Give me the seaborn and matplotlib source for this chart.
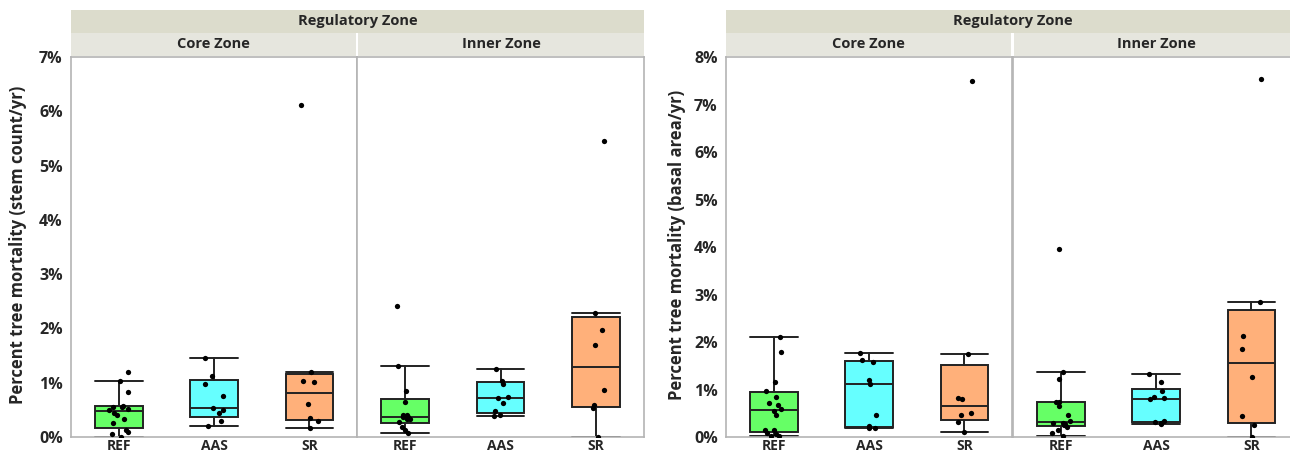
import numpy as np
import pandas as pd
import matplotlib.pyplot as plt
import seaborn as sns
from matplotlib.ticker import PercentFormatter

# Estilo geral
sns.set_theme(style="white")
plt.rcParams["font.family"] = ["Open Sans", "DejaVu Sans"]
plt.rcParams["font.weight"] = "bold"

categorias = ["REF", "AAS", "SR"]
zonas = ["Core Zone", "Inner Zone"]
cores = ["#66ff66", "#66ffff", "#ffb07a"]

# Mortalidade (% por ano) - contagem de troncos
stem_core_ref = [1.19, 1.04, 0.82, 0.57, 0.56, 0.55, 0.52, 0.50, 0.44, 0.40, 0.33, 0.25, 0.13, 0.10, 0.06, 0.00]
stem_core_aas = [1.45, 1.13, 0.98, 0.75, 0.54, 0.49, 0.44, 0.30, 0.21]
stem_core_sr = [6.12, 1.19, 1.04, 1.01, 0.61, 0.35, 0.30, 0.17]
stem_inner_ref = [2.41, 1.31, 0.84, 0.65, 0.41, 0.41, 0.37, 0.37, 0.34, 0.33, 0.28, 0.18, 0.12, 0.07]
stem_inner_aas = [1.25, 1.04, 0.97, 0.73, 0.71, 0.63, 0.48, 0.41, 0.39]
stem_inner_sr = [5.46, 2.28, 1.97, 1.70, 0.87, 0.59, 0.54, 0.00]

# Mortalidade (% por ano) - area basal
basal_core_ref = [2.10, 1.80, 1.15, 0.97, 0.84, 0.72, 0.68, 0.58, 0.55, 0.46, 0.15, 0.15, 0.08, 0.06, 0.03, 0.02]
basal_core_aas = [1.77, 1.63, 1.58, 1.19, 1.12, 0.46, 0.23, 0.20, 0.18]
basal_core_sr = [7.50, 1.74, 0.82, 0.79, 0.51, 0.46, 0.31, 0.10]
basal_inner_ref = [3.96, 1.37, 1.23, 0.74, 0.74, 0.65, 0.46, 0.34, 0.29, 0.29, 0.27, 0.25, 0.22, 0.15, 0.08, 0.02]
basal_inner_aas = [1.32, 1.16, 0.96, 0.84, 0.82, 0.80, 0.34, 0.31, 0.30, 0.27]
basal_inner_sr = [7.53, 2.85, 2.13, 1.85, 1.27, 0.44, 0.25, 0.01]

W, H = 1290, 454
fig = plt.figure(figsize=(W / 100, H / 100), dpi=100)
np.random.seed(4)


def estatisticas(valores):
    # quartis no estilo JMP ((n+1)p) e bigodes ate o ultimo ponto dentro de 1.5*IQR
    v = np.sort(np.asarray(valores, float))
    q1, med, q3 = np.percentile(v, [25, 50, 75], method="weibull")
    iqr = q3 - q1
    dentro = v[(v >= q1 - 1.5 * iqr) & (v <= q3 + 1.5 * iqr)]
    return dict(med=med, q1=q1, q3=q3, whislo=dentro.min(), whishi=dentro.max(), fliers=[])


def faceta(rect, grupos, ymax, mostrar_y):
    x0, x1, y0, y1 = rect
    ax = fig.add_axes([x0 / W, 1 - y1 / H, (x1 - x0) / W, (y1 - y0) / H])
    df = pd.DataFrame([(c, v) for c, vals in zip(categorias, grupos) for v in vals],
                      columns=["Grupo", "Valor"])
    linha = dict(color="#222222", linewidth=1.4)
    bp = ax.bxp([estatisticas(g) for g in grupos], positions=[0, 1, 2], widths=0.5,
                capwidths=0.5, patch_artist=True, showfliers=False, manage_ticks=False,
                boxprops=dict(edgecolor="#222222", linewidth=1.4),
                medianprops=linha, whiskerprops=linha, capprops=linha)
    for patch, cor in zip(bp["boxes"], cores):
        patch.set_facecolor(cor)
    sns.stripplot(data=df, x="Grupo", y="Valor", order=categorias, color="black",
                  size=3.8, jitter=0.1, ax=ax, zorder=4)
    ax.set_xlim(-0.5, 2.5)
    ax.set_ylim(0, ymax)
    ax.set_yticks(range(ymax + 1))
    ax.yaxis.set_major_formatter(PercentFormatter(decimals=0))
    ax.set_xlabel("")
    ax.set_ylabel("")
    for s in ax.spines.values():
        s.set_color("#b4b4b4")
        s.set_linewidth(1.2)
    ax.tick_params(axis="x", length=0, pad=1.5, labelsize=10)
    ax.tick_params(axis="y", length=4, width=1, color="#b4b4b4", pad=2, labelsize=11.5)
    if not mostrar_y:
        ax.tick_params(axis="y", left=False, labelleft=False)
    return ax


def cabecalho(x0, x1, y0, y1, texto, cor):
    hax = fig.add_axes([x0 / W, 1 - y1 / H, (x1 - x0) / W, (y1 - y0) / H])
    hax.set_facecolor(cor)
    hax.set_xticks([])
    hax.set_yticks([])
    for s in hax.spines.values():
        s.set_visible(False)
    hax.text(0.5, 0.5, texto, ha="center", va="center", fontsize=10.5, fontweight="bold")


# Painel esquerdo: contagem de troncos
faceta((71, 357, 57, 437), [stem_core_ref, stem_core_aas, stem_core_sr], 7, True)
faceta((357, 644, 57, 437), [stem_inner_ref, stem_inner_aas, stem_inner_sr], 7, False)
cabecalho(71, 644, 10, 33, "Regulatory Zone", "#dcdccc")
cabecalho(71, 356, 33, 56, zonas[0], "#e6e6de")
cabecalho(358, 644, 33, 56, zonas[1], "#e6e6de")
fig.text(18 / W, 1 - 245 / H, "Percent tree mortality (stem count/yr)", rotation=90,
         ha="center", va="center", fontsize=12, fontweight="bold")

# Painel direito: area basal
faceta((726, 1012, 57, 437), [basal_core_ref, basal_core_aas, basal_core_sr], 8, True)
faceta((1013, 1299, 57, 437), [basal_inner_ref, basal_inner_aas, basal_inner_sr], 8, False)
cabecalho(726, 1299, 10, 33, "Regulatory Zone", "#dcdccc")
cabecalho(726, 1011, 33, 56, zonas[0], "#e6e6de")
cabecalho(1014, 1299, 33, 56, zonas[1], "#e6e6de")
fig.text(677 / W, 1 - 245 / H, "Percent tree mortality (basal area/yr)", rotation=90,
         ha="center", va="center", fontsize=12, fontweight="bold")

fig.savefig("out.png", dpi=100)
